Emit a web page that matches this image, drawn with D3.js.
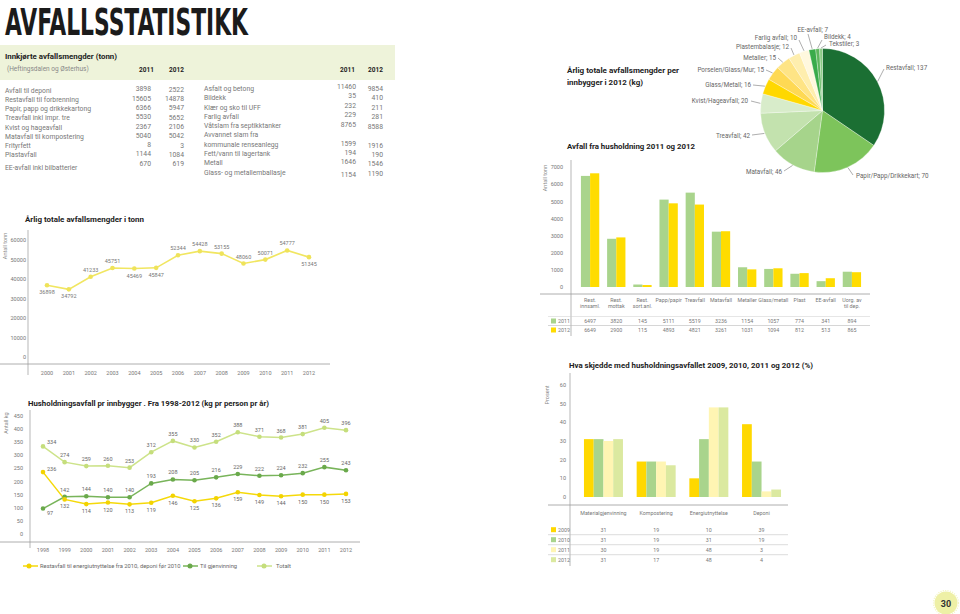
<!DOCTYPE html>
<html><head><meta charset="utf-8">
<script src="https://cdn.jsdelivr.net/npm/d3@7"></script>
<style>body{margin:0;background:#fff}svg{display:block}</style>
</head><body><svg id="c" width="960" height="614"></svg>
<script>
// ---------------- DATA ----------------
const tableLeftLabels = ["Avfall til deponi","Restavfall til forbrenning","Papir, papp og drikkekartong","Treavfall inkl impr. tre","Kvist og hageavfall","Matavfall til kompostering","Frityrfett","Plastavfall","EE-avfall inkl bilbatterier"];
const tableLeft2011 = [3898,15605,6366,5530,2367,5040,8,1144,670];
const tableLeft2012 = [2522,14878,5947,5652,2106,5042,3,1084,619];
const tableRightLabels = ["Asfalt og betong","Bildekk","Klær og sko til UFF","Farlig avfall","Våtslam fra septikktanker","Avvannet slam fra","kommunale renseanlegg","Fett/vann til lagertank","Metall","Glass- og metallemballasje"];
const tableRight2011 = [11460,35,232,229,8765,null,1599,194,1646,1154];
const tableRight2012 = [9854,410,211,281,8588,null,1916,190,1546,1190];

const pieLabels = ["Restavfall","Papir/Papp/Drikkekart","Matavfall","Treavfall","Kvist/Hageavfall","Glass/Metall","Porselen/Glass/Mur","Metaller","Plastembalasje","Farlig avfall","EE-avfall","Bildekk","Tekstiler"];
const pieValues = [137,70,46,42,20,16,15,15,12,10,7,4,3];

const hhCategories = ["Rest.|innsaml.","Rest.|mottak","Rest.|sort.anl.","Papp/papir","Treavfall","Matavfall","Metaller","Glass/metall","Plast","EE-avfall","Uorg. av|til dep."];
const hh2011 = [6497,2820,145,5111,5519,3236,1154,1057,774,341,894];
const hh2011Text = ["6497","3820","145","5111","5519","3236","1154","1057","774","341","894"];
const hh2012 = [6649,2900,115,4893,4821,3261,1031,1094,812,513,865];
const hhTicks = [0,1000,2000,3000,4000,5000,6000,7000];

const totYears = [2000,2001,2002,2003,2004,2005,2006,2007,2008,2009,2010,2011,2012];
const totValues = [36898,34792,41233,45751,45469,45847,52344,54428,53155,48060,50071,54777,51345];
const totTicks = [0,10000,20000,30000,40000,50000,60000];

const kgYears = [1998,1999,2000,2001,2002,2003,2004,2005,2006,2007,2008,2009,2010,2011,2012];
const kgRest = [236,132,114,120,113,119,146,125,136,159,149,144,150,150,153];
const kgGjenv = [97,142,144,140,140,193,208,205,216,229,222,224,232,255,243];
const kgTotal = [334,274,259,260,253,312,355,330,352,388,371,368,381,405,396];
const kgTicks = [0,50,100,150,200,250,300,350,400,450];
const kgSeriesNames = ["Restavfall til energiutnyttelse fra 2010, deponi før 2010","Til gjenvinning","Totalt"];

const pctCategories = ["Materialgjenvinning","Kompostering","Energiutnyttelse","Deponi"];
const pctYears = ["2009","2010","2011","2012"];
const pct2009 = [31,19,10,39];
const pct2010 = [31,19,31,19];
const pct2011 = [30,19,48,3];
const pct2012 = [31,17,48,4];
const pctTicks = [0,10,20,30,40,50,60];

// ---------------- STYLE / LAYOUT ----------------
const FONT = 'Roboto, "Liberation Sans", sans-serif';
const svg = d3.select('#c');
function T(x,y,s,o={}){
  const t = svg.append('text').attr('x',x).attr('y',y).text(s)
    .style('font-family', o.family||FONT)
    .style('font-size', (o.size||7)+'px')
    .style('font-weight', o.bold?'bold':'normal')
    .attr('fill', o.fill||'#555')
    .attr('text-anchor', o.anchor||'start')
    .attr('dominant-baseline', 'central');
  if(o.len) t.attr('textLength',o.len).attr('lengthAdjust','spacingAndGlyphs');
  if(o.rot) t.attr('transform',`rotate(-90,${x},${y})`);
  return t;
}
function L(x1,y1,x2,y2,c='#999',w=0.7){
  svg.append('line').attr('x1',x1).attr('y1',y1).attr('x2',x2).attr('y2',y2).attr('stroke',c).attr('stroke-width',w);
}

// Title
svg.append('text').attr('x',5).attr('y',34.5).text('AVFALLSSTATISTIKK')
  .style('font-family','"DejaVu Sans Condensed","DejaVu Sans",sans-serif')
  .style('font-weight','bold').style('font-size','37px')
  .attr('textLength',243).attr('lengthAdjust','spacingAndGlyphs').attr('fill','#1b1b1b');

// -------- Table --------
svg.append('rect').attr('x',0).attr('y',45).attr('width',395).attr('height',35).attr('fill','#eef3da');
T(5,56,'Innkjørte avfallsmengder (tonn)',{bold:true,size:7.5,fill:'#222',len:112});
T(7,69,'(Heftingsdalen og Østerhus)',{size:6.5,fill:'#888'});
T(154,69.5,'2011',{bold:true,size:6.5,fill:'#222',anchor:'end'});
T(184,69.5,'2012',{bold:true,size:6.5,fill:'#222',anchor:'end'});
T(355,69.5,'2011',{bold:true,size:6.5,fill:'#222',anchor:'end'});
T(383,69.5,'2012',{bold:true,size:6.5,fill:'#222',anchor:'end'});
const leftLabelY = [90.5,100,109,118.3,127.5,137,146,155,168];
const leftValY = [89,98.7,107.7,117,126.7,135.7,145.3,154.3,163.7];
tableLeftLabels.forEach((s,i)=>{
  T(5,leftLabelY[i],s,{size:6.8,fill:'#777'});
  T(151,leftValY[i],tableLeft2011[i],{size:6.8,fill:'#777',anchor:'end'});
  T(184,leftValY[i]+0.5,tableLeft2012[i],{size:6.8,fill:'#777',anchor:'end'});
});
const rightLabelY = [88.7,98,107.7,117,126,135.3,145,154.3,163.3,173.3];
const rightVal1Y = [87,96.3,105.7,115,124.7,0,143.7,153,162.3,174.7];
const rightVal2Y = [89,98,107.7,117,126.7,0,145.7,155,164,173.7];
tableRightLabels.forEach((s,i)=>{
  T(204,rightLabelY[i],s,{size:6.8,fill:'#777'});
  if(tableRight2011[i]!==null){
    T(356,rightVal1Y[i],tableRight2011[i],{size:6.8,fill:'#777',anchor:'end'});
    T(383,rightVal2Y[i],tableRight2012[i],{size:6.8,fill:'#777',anchor:'end'});
  }
});

// -------- Pie --------
T(567,70,'Årlig totale avfallsmengder per',{bold:true,size:7.5,fill:'#222',len:112});
T(567,82,'innbygger i 2012 (kg)',{bold:true,size:7.5,fill:'#222',len:76});
const pieColors = ['#1b6f33','#7dc45b','#a6d48b','#c3e2ae','#d8ecca','#ffd800','#fed954','#fee485','#feeeae','#fff8de','#3aab4a','#5db65c','#8ccb86'];
const pc = [822.5,110.5], R = 62;
const pie = d3.pie().sort(null).value(d=>d)(pieValues);
const arc = d3.arc().innerRadius(0).outerRadius(R);
svg.append('g').attr('transform',`translate(${pc})`).selectAll('path').data(pie).join('path')
  .attr('d',arc).attr('fill',(d,i)=>pieColors[i]).attr('stroke','#fff').attr('stroke-width',0.3);
// label layout: text x, y, anchor, leader end x, y
const pieLabelLayout = [
  [886,68,'start',884,69],[856,176,'start',853,175],[782,172,'end',784,171],[750,136,'end',752,135],
  [748,101,'end',751,101],[751,85,'end',753,85],[764,70,'end',766,70],[776,58,'end',778,58],
  [789,47,'end',791,48],[797,38,'end',799,40],[828,30,'end',808,34],[824,37,'start',822,40],[829,44,'start',826,45]];
pie.forEach((d,i)=>{
  const a=(d.startAngle+d.endAngle)/2;
  const sx=pc[0]+Math.sin(a)*(R+0.5), sy=pc[1]-Math.cos(a)*(R+0.5);
  const lay=pieLabelLayout[i];
  L(sx,sy,lay[3],lay[4],'#777',0.6);
  T(lay[0],lay[1],`${pieLabels[i]}; ${pieValues[i]}`,{size:6.3,fill:'#666',anchor:lay[2]});
});

// -------- Household bar chart --------
T(567,146,'Avfall fra husholdning 2011 og 2012',{bold:true,size:7.5,fill:'#222',len:128});
const xb = d3.scaleBand().domain(hhCategories).range([577,865]).paddingInner(0.3).paddingOuter(0.15);
const yb = d3.scaleLinear().domain([0,7000]).range([287,167.3]);
const xb2 = d3.scaleBand().domain(['2011','2012']).range([0,xb.bandwidth()]);
T(545,178,'Antall tonn',{size:5.5,fill:'#888',anchor:'middle',rot:true});
L(571,160,571,336,'#999',0.7);
L(540,294,870,294,'#999',0.8);
hhTicks.forEach(v=>T(563,yb(v),v,{size:5.5,fill:'#777',anchor:'end'}));
const hhG = svg.append('g');
hhCategories.forEach((c,i)=>{
  hhG.append('rect').attr('x',xb(c)+xb2('2011')).attr('y',yb(hh2011[i])).attr('width',xb2.bandwidth()).attr('height',yb(0)-yb(hh2011[i])).attr('fill','#a9d48c');
  hhG.append('rect').attr('x',xb(c)+xb2('2012')).attr('y',yb(hh2012[i])).attr('width',xb2.bandwidth()).attr('height',yb(0)-yb(hh2012[i])).attr('fill','#ffdc00');
  const cx = xb(c)+xb.bandwidth()/2;
  const parts = c.split('|');
  parts.forEach((p,k)=>T(cx,300+k*6,p,{size:5.3,fill:'#777',anchor:'middle'}));
  T(cx,321,hh2011Text[i],{size:5.3,fill:'#777',anchor:'middle'});
  T(cx,330,hh2012[i],{size:5.3,fill:'#777',anchor:'middle'});
});
L(548,316.5,870,316.5,'#ccc',0.5);
L(548,325.5,870,325.5,'#bbb',0.6);
svg.append('rect').attr('x',551).attr('y',318.5).attr('width',5).attr('height',5).attr('fill','#a9d48c');
svg.append('rect').attr('x',551).attr('y',327.5).attr('width',5).attr('height',5).attr('fill','#ffdc00');
T(558,321,'2011',{size:5.3,fill:'#777'});
T(558,330,'2012',{size:5.3,fill:'#777'});

// -------- Total tonn line chart --------
T(25,219,'Årlig totale avfallsmengder i tonn',{bold:true,size:7.5,fill:'#222',len:119});
const x1 = d3.scalePoint().domain(totYears).range([47,309]);
const y1 = d3.scaleLinear().domain([0,60000]).range([357,240.3]);
T(5,246,'Antall tonn',{size:5.5,fill:'#888',anchor:'middle',rot:true});
L(28,230,28,375,'#999',0.7);
L(0,364,330,364,'#999',0.8);
totTicks.forEach(v=>T(26,y1(v),v,{size:5.5,fill:'#777',anchor:'end'}));
totYears.forEach(y=>T(x1(y),373,y,{size:5.5,fill:'#777',anchor:'middle'}));
svg.append('path').datum(totValues).attr('fill','none').attr('stroke','#f1e661').attr('stroke-width',1.6)
  .attr('d',d3.line().x((d,i)=>x1(totYears[i])).y(d=>y1(d)));
const totLabelSide = [1,1,-1,-1,1,1,-1,-1,-1,-1,-1,-1,1];
totValues.forEach((v,i)=>{
  svg.append('circle').attr('cx',x1(totYears[i])).attr('cy',y1(v)).attr('r',2.3).attr('fill','#efe35a');
  T(x1(totYears[i]),y1(v)+totLabelSide[i]*7,v,{size:5.5,fill:'#777',anchor:'middle'});
});

// -------- kg per person line chart --------
T(28,403,'Husholdningsavfall pr innbygger . Fra 1998-2012 (kg pr person pr år)',{bold:true,size:7.5,fill:'#222',len:241});
const x2 = d3.scalePoint().domain(kgYears).range([43,346]);
const y2 = d3.scaleLinear().domain([0,450]).range([534,416]);
T(6,423,'Antall kg',{size:5.5,fill:'#888',anchor:'middle',rot:true});
L(30,410,30,548,'#999',0.7);
L(0,542,360,542,'#999',0.8);
kgTicks.forEach(v=>T(23,y2(v),v,{size:5.5,fill:'#777',anchor:'end'}));
kgYears.forEach(y=>T(x2(y),550,y,{size:5.5,fill:'#777',anchor:'middle'}));
const kgSeries = [kgRest,kgGjenv,kgTotal];
const kgColors = ['#f5d90a','#78b45a','#cde38a'];
const kgMarker = ['#f3d300','#6aa94b','#c5de7c'];
const kgLabelSide = [
  [-0.5,1,1,1,1,1,1,1,1,1,1,1,1,1,1],
  [0.6,-1,-1,-1,-1,-1,-1,-1,-1,-1,-1,-1,-1,-1,-1],
  [-0.7,-1,-1,-1,-1,-1,-1,-1,-1,-1,-1,-1,-1,-1,-1]];
[2,1,0].forEach(s=>{
  svg.append('path').datum(kgSeries[s]).attr('fill','none').attr('stroke',kgColors[s]).attr('stroke-width',1.5)
    .attr('d',d3.line().x((d,i)=>x2(kgYears[i])).y(d=>y2(d)));
});
[2,1,0].forEach(s=>{
  kgSeries[s].forEach((v,i)=>{
    svg.append('circle').attr('cx',x2(kgYears[i])).attr('cy',y2(v)).attr('r',2.3).attr('fill',kgMarker[s]);
    const dx = i===0 ? 4 : 0;
    T(x2(kgYears[i])+dx,y2(v)+kgLabelSide[s][i]*7,v,{size:5.5,fill:'#666',anchor:i===0?'start':'middle'});
  });
});
const legX = [[23,38,29,40],[183,198,190,200],[257,272,264,276]];
kgSeriesNames.forEach((n,s)=>{
  const l=legX[s];
  L(l[0],566,l[1],566,kgColors[s],1.5);
  svg.append('circle').attr('cx',l[2]).attr('cy',566).attr('r',2.5).attr('fill',kgMarker[s]);
  T(l[3],566,n,{size:5.8,fill:'#666'});
});

// -------- Percent bar chart --------
T(569,365,'Hva skjedde med husholdningsavfallet  2009, 2010, 2011 og 2012 (%)',{bold:true,size:7.5,fill:'#222',len:244});
const x3 = d3.scaleBand().domain(pctCategories).range([570,795]).paddingInner(0.26).paddingOuter(0.265);
const x3i = d3.scaleBand().domain(pctYears).range([0,x3.bandwidth()]);
const y3 = d3.scaleLinear().domain([0,60]).range([497,385]);
const pctSeries = [pct2009,pct2010,pct2011,pct2012];
const pctColors = ['#ffd800','#a9d48c','#fff5b3','#dbe9a0'];
T(547,395,'Prosent',{size:5.5,fill:'#888',anchor:'middle',rot:true});
L(570,373,570,566,'#999',0.7);
L(548,505,788,505,'#999',0.8);
pctTicks.forEach(v=>T(566,y3(v),v,{size:5.5,fill:'#777',anchor:'end'}));
pctCategories.forEach((c,ci)=>{
  pctSeries.forEach((ser,si)=>{
    svg.append('rect').attr('x',x3(c)+x3i(pctYears[si])).attr('y',y3(ser[ci])).attr('width',x3i.bandwidth())
      .attr('height',y3(0)-y3(ser[ci])).attr('fill',pctColors[si]);
  });
  const cx = x3(c)+x3.bandwidth()/2;
  T(cx,513,c,{size:5.3,fill:'#777',anchor:'middle'});
});
pctSeries.forEach((ser,si)=>{
  const ry = 529.7+si*10;
  svg.append('rect').attr('x',551).attr('y',ry-2.5).attr('width',5).attr('height',5).attr('fill',pctColors[si]);
  T(558,ry,pctYears[si],{size:5.3,fill:'#777'});
  pctCategories.forEach((c,ci)=>T(x3(c)+x3.bandwidth()/2,ry,ser[ci],{size:5.3,fill:'#777',anchor:'middle'}));
  if(si<3) L(548,ry+5,788,ry+5,'#bbb',0.5);
});

// -------- Page number --------
svg.append('circle').attr('cx',946).attr('cy',603).attr('r',11.5).attr('fill','#eef0a6');
svg.append('circle').attr('cx',946).attr('cy',603).attr('r',12.5).attr('fill','none').attr('stroke','#f3f5c4').attr('stroke-width',1.2).attr('stroke-dasharray','1.2 1.2');
T(946,603.5,'30',{bold:true,size:9,fill:'#333',anchor:'middle'});
</script></body></html>
